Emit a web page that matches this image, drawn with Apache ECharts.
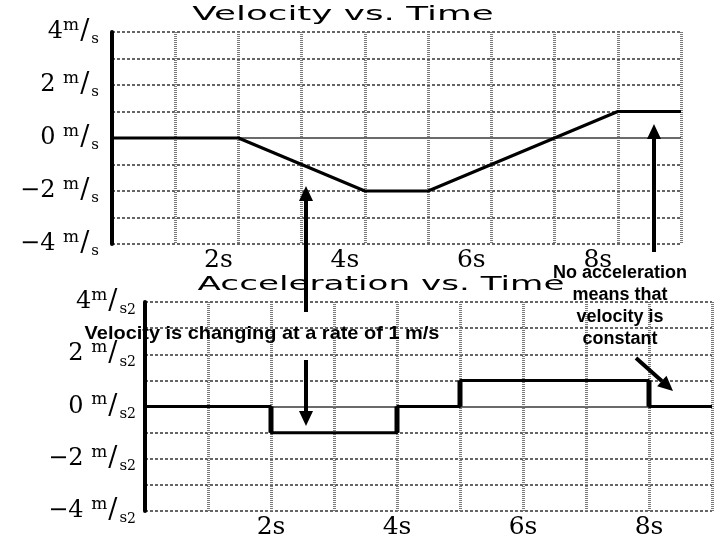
<!DOCTYPE html>
<html><head><meta charset="utf-8">
<script src="https://cdn.jsdelivr.net/npm/echarts@6/dist/echarts.min.js"></script>
<style>html,body{margin:0;padding:0;background:#fff}#c{width:720px;height:540px}</style>
</head><body><div id="c"></div>
<script>
// ---- data ----
var times = [0, 1, 2, 3, 4, 5, 6, 7, 8, 9];
var velocity = [0, 0, 0, -1, -2, -2, -1, 0, 1, 1];          // m/s
var acceleration = [0, 0, -1, -1, 0, 1, 1, 1, 0, 0];       // m/s^2, value holding from each time on
var xTickLabels = {2: '2s', 4: '4s', 6: '6s', 8: '8s'};
var yTickValues = [4, 2, 0, -2, -4];
var titleTop = 'Velocity vs. Time';
var titleBottom = 'Acceleration vs. Time';
var noteLeft = 'Velocity is changing at a rate of 1 m/s';
var noteRight = ['No acceleration', 'means that', 'velocity is', 'constant'];

var chart = echarts.init(document.getElementById('c'), null, {renderer: 'canvas'});

var serif = '"DejaVu Serif", "Liberation Serif", serif';
function yRich() {
  return {
    n: {fontFamily: serif, fontSize: 24, color: '#000', lineHeight: 30, verticalAlign: 'middle'},
    m: {fontFamily: serif, fontSize: 17, color: '#000', verticalAlign: 'top', lineHeight: 18},
    sl: {fontFamily: serif, fontSize: 27, color: '#000', lineHeight: 30, padding: [0, 2, 0, 1]},
    s: {fontFamily: serif, fontSize: 15, color: '#000', verticalAlign: 'bottom', lineHeight: 16},
    s2: {fontFamily: serif, fontSize: 14, color: '#000', verticalAlign: 'bottom', lineHeight: 20}
  };
}
function yFmt(sq) {
  return function (v) {
    if (yTickValues.indexOf(v) < 0) return '';
    var num = v < 0 ? '\u2212' + (-v) : String(v);
    var gap = v === 4 ? '' : ' ';
    return '{n|' + num + gap + '}{m|m}{sl|/}{s|s}' + (sq ? '{s2|2}' : '');
  };
}
function xAxisCfg(gi, shift) {
  return {
    type: 'value', gridIndex: gi, min: 0, max: 9, interval: 1,
    axisLine: {show: false}, axisTick: {show: false},
    axisLabel: {
      formatter: function (v) { return xTickLabels[v] || ''; },
      fontFamily: serif, fontSize: 25, color: '#000', margin: 4,
      padding: shift ? [0, shift, 0, 0] : 0
    },
    splitLine: {show: true, lineStyle: {color: '#7a7a7a', width: 3, type: [1, 1]}}
  };
}
function yAxisCfg(gi, sq, margin) {
  return {
    type: 'value', gridIndex: gi, min: -4, max: 4, interval: 1,
    axisLine: {show: true, onZero: false, lineStyle: {color: '#000', width: 4}},
    axisTick: {show: false},
    axisLabel: {formatter: yFmt(sq), rich: yRich(), margin: margin, align: 'right'},
    splitLine: {show: true, lineStyle: {color: '#333', width: 1.5, type: [3, 2]}}
  };
}

var velData = times.map(function (t, i) { return [t, velocity[i]]; });
var accData = times.map(function (t, i) { return [t, acceleration[i]]; });
// vertical jumps of the step line (drawn heavier, as in the original)
var jumpSeries = [];
for (var i = 1; i < times.length; i++) {
  if (acceleration[i] !== acceleration[i - 1]) {
    jumpSeries.push({
      type: 'line', xAxisIndex: 1, yAxisIndex: 1, symbol: 'none', silent: true, z: 12,
      data: [[times[i], acceleration[i - 1]], [times[i], acceleration[i]]],
      lineStyle: {color: '#000', width: 5}
    });
  }
}

function zeroLineSeries(gi) {
  return {
    type: 'line', xAxisIndex: gi, yAxisIndex: gi, data: [], z: 1, silent: true,
    markLine: {symbol: 'none', silent: true, z: 1, label: {show: false},
      lineStyle: {color: '#6a6a6a', width: 2, type: 'solid'}, data: [{yAxis: 0}]}
  };
}

function arrow(x1, y1, x2, y2) {
  var ang = Math.atan2(y2 - y1, x2 - x1);
  var hl = 15, hw = 7;
  var bx = x2 - hl * Math.cos(ang), by = y2 - hl * Math.sin(ang);
  var px = -Math.sin(ang) * hw, py = Math.cos(ang) * hw;
  return [
    {type: 'line', shape: {x1: x1, y1: y1, x2: bx, y2: by}, style: {stroke: '#000', lineWidth: 4}, z: 100},
    {type: 'polygon', shape: {points: [[x2, y2], [bx + px, by + py], [bx - px, by - py]]}, style: {fill: '#000'}, z: 100}
  ];
}

var sansBold = '"Liberation Sans", Arial, sans-serif';
var graphics = [
  {type: 'text', x: 343, y: 15, scaleX: 1.88, z: 50,
    style: {text: titleTop, font: '19px "DejaVu Sans"', fill: '#000', textAlign: 'center', textVerticalAlign: 'middle'}},
  {type: 'text', x: 381, y: 285, scaleX: 1.8, z: 50,
    style: {text: titleBottom, font: '19px "DejaVu Sans"', fill: '#000', textAlign: 'center', textVerticalAlign: 'middle'}},
  {type: 'text', x: 262, y: 334, scaleX: 1.05, z: 120,
    style: {text: noteLeft, font: 'bold 19px ' + sansBold, fill: '#000', textAlign: 'center', textVerticalAlign: 'middle'}},
  {type: 'text', x: 620, y: 306, z: 120,
    style: {text: noteRight.join('\n'), font: 'bold 18px ' + sansBold, lineHeight: 22, fill: '#000', textAlign: 'center', textVerticalAlign: 'middle'}}
];
graphics = graphics.concat(arrow(306, 312, 306, 186), arrow(306, 360, 306, 426),
  arrow(654, 252, 654, 124), arrow(636, 358, 673, 391));

var option = {
  backgroundColor: '#fff',
  animation: false,
  grid: [
    {left: 112, right: 39, top: 32, bottom: 296, containLabel: false},
    {left: 145, right: 8, top: 302, bottom: 26, containLabel: false}
  ],
  xAxis: [xAxisCfg(0, 40), xAxisCfg(1, 0)],
  yAxis: [yAxisCfg(0, false, 13), yAxisCfg(1, true, 9)],
  series: [
    zeroLineSeries(0),
    zeroLineSeries(1),
    {type: 'line', name: 'velocity', xAxisIndex: 0, yAxisIndex: 0, data: velData, symbol: 'none', z: 12,
      lineStyle: {color: '#000', width: 3}},
    {type: 'line', name: 'acceleration', xAxisIndex: 1, yAxisIndex: 1, data: accData, step: 'end', symbol: 'none', z: 12,
      lineStyle: {color: '#000', width: 3}}
  ].concat(jumpSeries),
  graphic: graphics
};
chart.setOption(option);
</script>
</body></html>
